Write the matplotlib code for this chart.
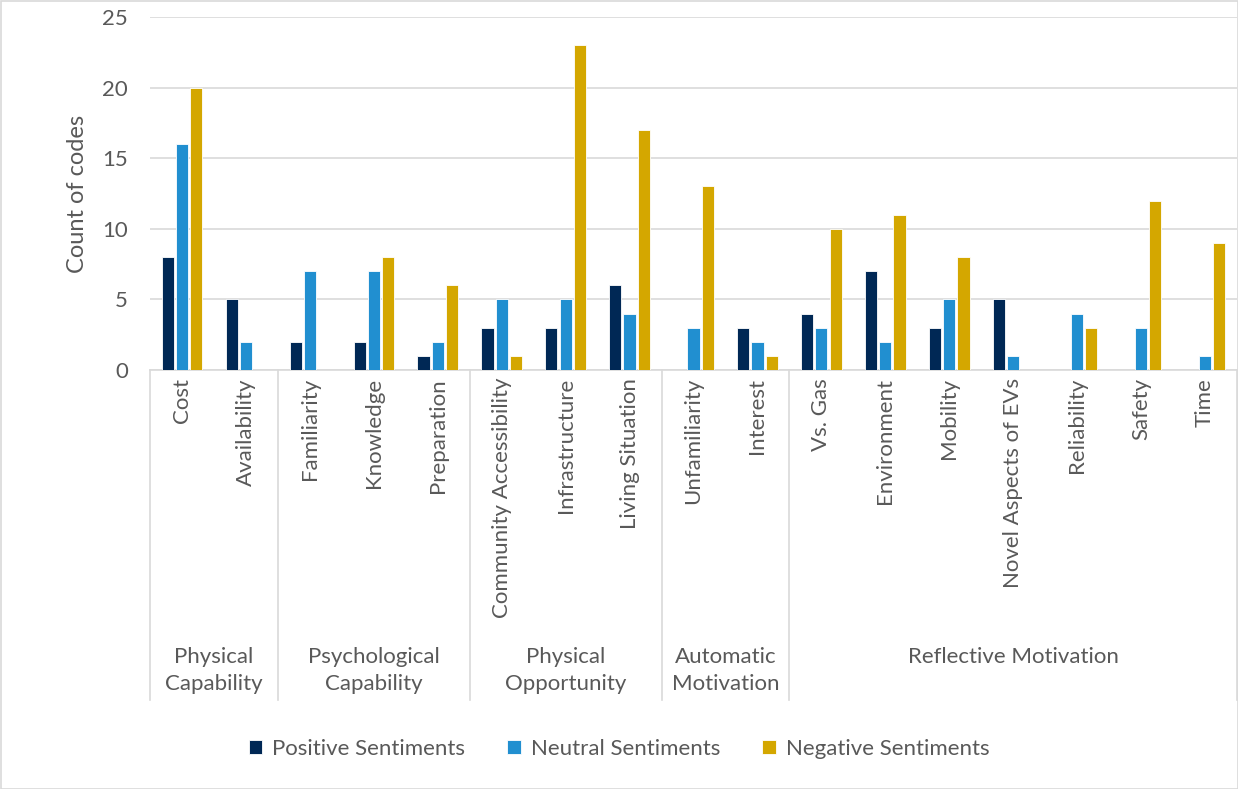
import numpy as np
import matplotlib.pyplot as plt
from matplotlib.patches import Rectangle
from matplotlib.transforms import blended_transform_factory

plt.rcParams['font.family'] = ['Lato', 'DejaVu Sans']

codes = ["Cost", "Availability", "Familiarity", "Knowledge", "Preparation",
         "Community Accessibility", "Infrastructure", "Living Situation",
         "Unfamiliarity", "Interest", "Vs. Gas", "Environment", "Mobility",
         "Novel Aspects of EVs", "Reliability", "Safety", "Time"]
groups = ["Physical\nCapability", "Psychological\nCapability", "Physical\nOpportunity",
          "Automatic\nMotivation", "Reflective Motivation"]
group_sizes = [2, 3, 3, 2, 7]

positive = [8, 5, 2, 2, 1, 3, 3, 6, 0, 3, 4, 7, 3, 5, 0, 0, 0]
neutral = [16, 2, 7, 7, 2, 5, 5, 4, 3, 2, 3, 2, 5, 1, 4, 3, 1]
negative = [20, 0, 0, 8, 6, 1, 23, 17, 13, 1, 10, 11, 8, 0, 3, 12, 9]

series = ["Positive Sentiments", "Neutral Sentiments", "Negative Sentiments"]
colors = ["#002855", "#218FD0", "#D4A700"]
text_col = "#595959"
grid_col = "#D9D9D9"

W, H = 1238, 789
fig = plt.figure(figsize=(W / 100, H / 100), dpi=100)
ax = fig.add_axes([150 / W, (H - 370) / H, (1237 - 150) / W, (370 - 17) / H])

x = np.arange(len(codes))
step = 0.222
for i, (vals, c, name) in enumerate(zip([positive, neutral, negative], colors, series)):
    ax.bar(x + (i - 1) * step, vals, width=0.19, color=c, edgecolor="white",
           linewidth=0.6, label=name, zorder=3)

ax.set_xlim(-0.5, len(codes) - 0.5)
ax.set_ylim(0, 25)
ax.set_yticks(range(0, 26, 5))
ax.yaxis.grid(True, color=grid_col, linewidth=1.2, zorder=0)
for s in ["top", "right", "left"]:
    ax.spines[s].set_visible(False)
ax.spines["bottom"].set_color(grid_col)
ax.spines["bottom"].set_linewidth(1.2)
ax.tick_params(axis="y", length=0, labelsize=16, labelcolor=text_col, pad=16)
ax.set_xticks([])
ax.set_ylabel("Count of codes", fontsize=17, color=text_col, labelpad=10)

trans = blended_transform_factory(ax.transData, ax.transAxes)
px = 1 / (370 - 17)
for xi, name in zip(x, codes):
    ax.text(xi, -8 * px, name, rotation=90, ha="center", va="top",
            fontsize=16, color=text_col, transform=trans)

bounds = np.concatenate([[0], np.cumsum(group_sizes)]) - 0.5
for b in bounds:
    ax.plot([b, b], [0, -330 * px], color=grid_col, linewidth=1.2,
            transform=trans, clip_on=False)
for g, lo, hi in zip(groups, bounds[:-1], bounds[1:]):
    ax.text((lo + hi) / 2, -277 * px, g, ha="center", va="top", fontsize=16,
            color=text_col, transform=trans, linespacing=1.45)

handles, labels = ax.get_legend_handles_labels()
leg = fig.legend(handles, labels, loc="center", bbox_to_anchor=(0.5, (H - 749) / H),
                 ncol=3, frameon=False, fontsize=16, handlelength=0.6,
                 handleheight=0.6, handletextpad=0.45, columnspacing=1.9)
for t in leg.get_texts():
    t.set_color(text_col)

fig.patches.append(Rectangle((0.5 / W, 0.5 / H), 1 - 1 / W, 1 - 1 / H,
                             transform=fig.transFigure, fill=False,
                             edgecolor=grid_col, linewidth=1.2))

fig.savefig("out.png", dpi=100)
